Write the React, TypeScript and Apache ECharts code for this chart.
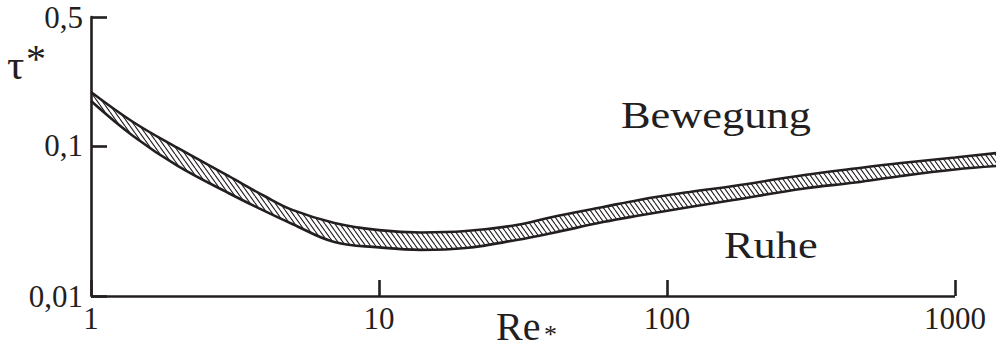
import React, { useEffect, useRef } from "react";
import * as echarts from "echarts";

const INK = "#231f20";
const FONT = "Liberation Serif";

// Re* sample positions (shared by both boundary curves)
const xValues = [1, 1.4, 2, 3, 4, 5, 7, 10, 14, 20, 30, 40, 60, 80, 120, 170, 300, 450, 650, 1000, 1400];
// upper boundary (Bewegung side)
const upperTau = [0.229, 0.1445, 0.097, 0.0631, 0.0464, 0.0375, 0.0307, 0.0275, 0.0265, 0.0271, 0.0297, 0.0336, 0.0392, 0.0437, 0.0494, 0.0541, 0.0641, 0.0708, 0.077, 0.0838, 0.0898];
// lower boundary (Ruhe side)
const lowerTau = [0.1995, 0.1166, 0.0736, 0.0486, 0.0369, 0.0302, 0.0229, 0.0211, 0.0203, 0.0209, 0.0236, 0.0263, 0.0311, 0.0344, 0.0392, 0.0437, 0.0521, 0.0571, 0.0631, 0.0697, 0.0736];

const xMin = 1;
const xAxisEnd = 1000; // drawn axis line stops here
const xViewMax = 1388; // curves continue to the right edge
const xTickValues = [1, 10, 100, 1000];
const yMin = 0.01;
const yTop = 0.724;
const yTickValues = [0.01, 0.1, yTop];
const yTickLabels = ["0,01", "0,1", "0,5"];

const hatchSvg =
  "<svg xmlns='http://www.w3.org/2000/svg' width='5' height='7'>" +
  "<path d='M0 0L5 7M-5 0L0 7M5 0L10 7' stroke='#231f20' stroke-width='1.1' fill='none'/></svg>";
const hatchUrl = "data:image/svg+xml;charset=utf-8," + encodeURIComponent(hatchSvg);

function txt(x: number, y: number, text: string, size: number, scaleX = 1) {
  return {
    type: "text",
    x,
    y,
    scaleX,
    z: 10,
    style: {
      text,
      fill: INK,
      fontFamily: FONT,
      fontSize: size,
      lineHeight: Math.round(size * 0.7),
      verticalAlign: "middle",
      align: "left",
    },
  };
}

export default function App() {
  const ref = useRef<HTMLDivElement>(null);

  useEffect(() => {
    if (!ref.current) return;
    const chart = echarts.init(ref.current, null, { renderer: "svg" });

    const upperData = xValues.map((x, i) => [x, upperTau[i]]);
    const lowerData = xValues.map((x, i) => [x, lowerTau[i]]);

    chart.setOption({
      animation: false,
      backgroundColor: "#ffffff",
      grid: { left: 91, right: 0, top: 17, bottom: 51, containLabel: false, outerBoundsMode: "none" },
      xAxis: {
        type: "log",
        logBase: 10,
        min: xMin,
        max: xViewMax,
        z: 5,
        axisLine: { show: false },
        axisTick: {
          show: true,
          inside: true,
          length: 16,
          customValues: xTickValues,
          lineStyle: { color: INK, width: 2.6 },
        },
        minorTick: { show: false },
        splitLine: { show: false },
        axisLabel: {
          color: INK,
          fontFamily: FONT,
          fontSize: 31,
          margin: 7,
          customValues: xTickValues,
          formatter: (v: number) => String(Math.round(v)),
        },
      },
      yAxis: {
        type: "log",
        logBase: 10,
        min: yMin,
        max: yTop,
        z: 5,
        axisLine: { show: true, lineStyle: { color: INK, width: 2.6 } },
        axisTick: {
          show: true,
          inside: true,
          length: 16,
          customValues: yTickValues,
          lineStyle: { color: INK, width: 2.6 },
        },
        minorTick: { show: false },
        splitLine: { show: false },
        axisLabel: {
          color: INK,
          fontFamily: FONT,
          fontSize: 31,
          margin: 8,
          customValues: yTickValues,
          formatter: (v: number) => {
            let best = 0;
            for (let i = 1; i < yTickValues.length; i++) {
              if (Math.abs(Math.log(yTickValues[i] / v)) < Math.abs(Math.log(yTickValues[best] / v))) best = i;
            }
            return yTickLabels[best];
          },
        },
      },
      series: [
        {
          type: "line",
          name: "upper",
          data: upperData,
          smooth: 0.4,
          symbol: "none",
          z: 2,
          lineStyle: { color: INK, width: 2.6 },
          areaStyle: {
            origin: "start",
            opacity: 1,
            color: { image: hatchUrl, repeat: "repeat", imageWidth: 5, imageHeight: 7 },
          },
        },
        {
          type: "line",
          name: "lower",
          data: lowerData,
          smooth: 0.4,
          symbol: "none",
          z: 3,
          lineStyle: { color: INK, width: 2.6 },
          areaStyle: { origin: "start", opacity: 1, color: "#ffffff" },
          markLine: {
            silent: true,
            symbol: ["none", "none"],
            label: { show: false },
            emphasis: { disabled: true },
            lineStyle: { color: INK, width: 2.6, type: "solid" },
            data: [[{ coord: [xMin, yMin] }, { coord: [xAxisEnd, yMin] }]],
          },
        },
      ],
      graphic: [
        txt(7, 64, "τ", 43),
        txt(26, 58, "*", 40),
        txt(496, 326, "Re", 40),
        txt(544, 334, "*", 26),
        txt(621, 116, "Bewegung", 37, 1.2),
        txt(724, 246, "Ruhe", 37, 1.2),
      ],
    });

    return () => chart.dispose();
  }, []);

  return (
    <div
      ref={ref}
      style={{ position: "absolute", left: 0, top: 0, width: 996, height: 347, background: "#fff" }}
    />
  );
}
